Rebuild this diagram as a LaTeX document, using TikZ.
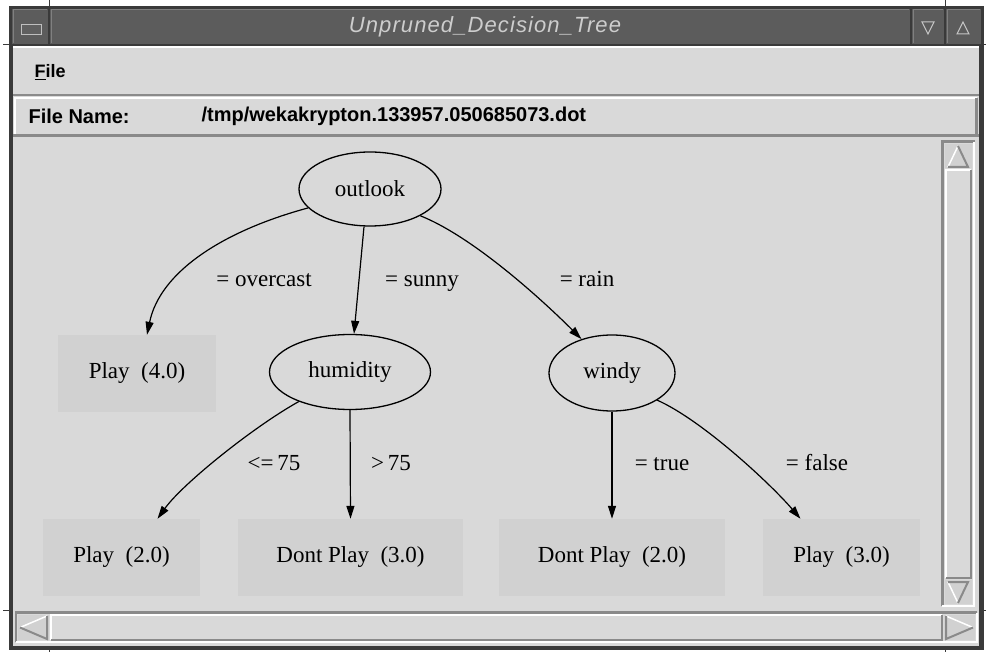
\documentclass[tikz,border=0pt]{standalone}
\usepackage{fontspec}
\setmainfont{Liberation Serif}
\setsansfont{Liberation Sans}
\usetikzlibrary{arrows.meta,shapes.geometric}

\definecolor{canvasgray}{HTML}{D9D9D9}
\definecolor{leafgray}{HTML}{D1D1D1}
\definecolor{titlegray}{HTML}{5C5C5C}
\definecolor{framegray}{HTML}{3A3A3A}
\definecolor{shadegray}{HTML}{8A8A8A}
\definecolor{titletext}{HTML}{CDCDCD}

\begin{document}
\begin{tikzpicture}[x=1pt,y=-1pt,treefont/.style={font=\fontsize{23}{26}\selectfont},test/.style={ellipse, draw, line width=1.3pt, inner sep=0pt, treefont},leaf/.style={rectangle, fill=leafgray, inner sep=0pt, minimum height=77pt, treefont},edgelabel/.style={treefont, anchor=base},arrow/.style={-{Triangle[length=13pt,width=8pt]}, line width=1.2pt},uifont/.style={font=\sffamily\bfseries\fontsize{20}{24}\selectfont},sunken/.style={line width=2.5pt},button/.style={draw=framegray, line width=2pt, fill=titlegray}]
\useasboundingbox (0,0) rectangle (986,652);
\fill[white] (0,0) rectangle (986,652);
% window frame and title bar
\fill[framegray] (9,6) rectangle (984,650);
\draw[button] (11,8) rectangle (49,45);\draw[button] (49,8) rectangle (911,45);\draw[button] (911,8) rectangle (945,45);\draw[button] (945,8) rectangle (982,45);
\draw[gray, line width=1pt] (13,43) -- (13,10) -- (47,10);\draw[gray, line width=1pt] (51,43) -- (51,10) -- (909,10);\draw[gray, line width=1pt] (913,43) -- (913,10) -- (943,10);\draw[gray, line width=1pt] (947,43) -- (947,10) -- (980,10);
\draw[fill=gray!75!black, draw=gray!50] (21,24) rectangle (41,34);
\draw[gray!45, line width=1pt] (922,22) -- (934,22) -- (928,34) -- cycle;\draw[gray!45, line width=1pt] (957,34) -- (969,34) -- (963,22) -- cycle;
\node[font=\sffamily\itshape\fontsize{22}{25}\selectfont\addfontfeatures{LetterSpace=5}, text=titletext] (title) at (485,27) {Unpruned\_Decision\_Tree};
\draw[framegray, line width=1pt] (49,0) -- (49,8) (945,0) -- (945,8) (49,650) -- (49,652) (945,650) -- (945,652) (3,45) -- (9,45) (3,610) -- (9,610) (984,45) -- (986,45) (984,610) -- (986,610);
% menu bar and file name bar
\fill[canvasgray] (13,46) rectangle (979,646);
\draw[white, line width=2pt] (13,47) -- (979,47);
\draw[shadegray, sunken] (13,95) -- (979,95);
\draw[white, line width=2pt] (14,98) -- (977,98) (15,98) -- (15,134);
\draw[shadegray, sunken] (13,135.5) -- (979,135.5) (976.5,98) -- (976.5,135);
\node[uifont, font=\sffamily\bfseries\fontsize{18}{22}\selectfont, anchor=west] (filemenu) at (31,72) {\underline{F}ile};
\node[uifont, anchor=west] (fnlabel) at (25,116) {File Name:};
\node[uifont, anchor=west] (fnpath) at (198,116) {/tmp/wekakrypton.133957.050685073.dot};
% vertical scroll bar
\draw[shadegray, sunken] (942.5,606) -- (942.5,141.5) -- (975,141.5);\draw[white, line width=2pt] (974,142) -- (974,606) -- (942,606);
\fill[leafgray] (945,144) rectangle (972,168);\draw[white, line width=1.5pt] (948,167) -- (958,146);\draw[shadegray, line width=2pt] (958,146) -- (968,167) -- (948,167);
\fill[canvasgray] (946,170) rectangle (971,578);\draw[white, line width=2pt] (946,578) -- (946,170) -- (971,170);\draw[shadegray, sunken] (971,170) -- (971,578) -- (946,578);
\fill[leafgray] (945,580) rectangle (972,604);\draw[white, line width=1.5pt] (948,582) -- (958,603);\draw[shadegray, line width=2pt] (958,603) -- (968,582) -- (948,582);
% horizontal scroll bar
\draw[shadegray, sunken] (16,642) -- (16,612.5) -- (977,612.5);\draw[white, line width=2pt] (977,613) -- (977,642) -- (16,642);
\fill[leafgray] (18,615) rectangle (49,640);\draw[white, line width=1.5pt] (47,616) -- (20,627.5);\draw[shadegray, line width=2pt] (20,627.5) -- (47,639) -- (47,616);
\fill[canvasgray] (51,615) rectangle (942,640);\draw[white, line width=2pt] (51,640) -- (51,615) -- (942,615);\draw[shadegray, sunken] (942,615) -- (942,640) -- (51,640);
\fill[leafgray] (944,615) rectangle (975,640);\draw[white, line width=1.5pt] (946,616) -- (973,627.5);\draw[shadegray, line width=2pt] (973,627.5) -- (946,639) -- (946,616);
% decision tree
\node[test, minimum width=142pt, minimum height=74pt] (outlook) at (370,189) {outlook};
\node[leaf, minimum width=158pt] (play4) at (137,373.5) {Play\ \ (4.0)};
\node[test, minimum width=161pt, minimum height=75pt] (humidity) at (350,372) {humidity};
\node[test, minimum width=126pt, minimum height=76pt] (windy) at (612,373) {windy};
\node[leaf, minimum width=157pt] (play2) at (121.5,557.5) {Play\ \ (2.0)};
\node[leaf, minimum width=225pt] (dont3) at (350.5,557.5) {Dont Play\ \ (3.0)};
\node[leaf, minimum width=226pt] (dont2) at (612,557.5) {Dont Play\ \ (2.0)};
\node[leaf, minimum width=157pt] (play3) at (841.5,557.5) {Play\ \ (3.0)};
\draw[arrow] (outlook.197) .. controls +(-85,23) and +(13,-63) .. ([xshift=10pt]play4.north);
\draw[arrow] ([xshift=-6pt]outlook.south) -- ([xshift=4pt]humidity.north);
\draw[arrow] (outlook.-28) .. controls +(55,22) and +(-35,-35) .. (windy.132);
\draw[arrow] (humidity.210) .. controls +(-45,25) and +(25,-35) .. ([xshift=36pt]play2.north);
\draw[arrow] (humidity.south) -- (dont3.north);
\draw[arrow] (windy.south) -- (dont2.north);
\draw[arrow] (windy.-31) .. controls +(45,20) and +(-30,-35) .. ([xshift=-41pt]play3.north);
\node[edgelabel] (lovercast) at (264,287) {= overcast};
\node[edgelabel] (lsunny) at (422,287) {= sunny};
\node[edgelabel] (lrain) at (587,287) {= rain};
\node[edgelabel] (lle) at (274,470) {<=\,75};
\node[edgelabel] (lgt) at (391,470) {>\,75};
\node[edgelabel] (ltrue) at (662,470) {= true};
\node[edgelabel] (lfalse) at (817,470) {= false};
\end{tikzpicture}
\end{document}
